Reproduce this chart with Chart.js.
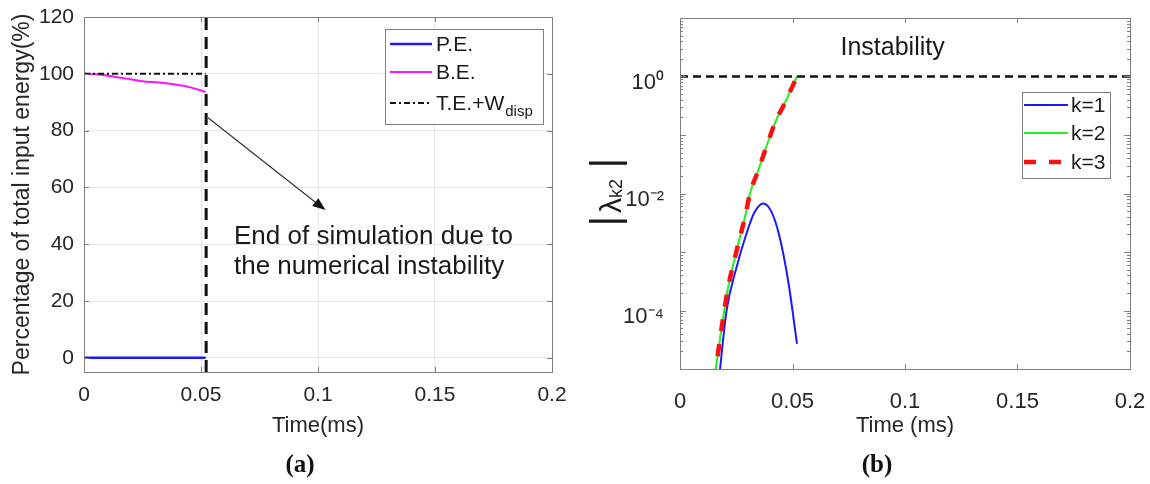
<!DOCTYPE html>
<html>
<head>
<meta charset="utf-8">
<script src="https://cdn.jsdelivr.net/npm/chart.js@4.4.0/dist/chart.umd.min.js"></script>
<style>
  body { margin: 0; background: #fff; width: 1150px; height: 484px; overflow: hidden; position: relative; }
  #energyChart { position: absolute; left: 0; top: 0; }
  #lambdaChart { position: absolute; left: 580px; top: 0; }
  .cap { position: absolute; top: 450px; transform: translateX(-50%); font: bold 25px 'Liberation Serif', 'Times New Roman', serif; color: #111; }
</style>
</head>
<body>
<canvas id="energyChart" width="580" height="484"></canvas>
<canvas id="lambdaChart" width="570" height="484"></canvas>
<div class="cap" style="left:300px">(a)</div>
<div class="cap" style="left:877px">(b)</div>
<script>
// shared axis
const timeTicks = [0, 0.05, 0.1, 0.15, 0.2];
const timeTickLabels = ['0', '0.05', '0.1', '0.15', '0.2'];

// (a) energy percentages
const energyTicks = [0, 20, 40, 60, 80, 100, 120];
const peTime = [0, 0.052];
const peValues = [0, 0];
const beTime = [0, 0.005, 0.011, 0.018, 0.025, 0.032, 0.039, 0.045, 0.052];
const beValues = [100, 99.8, 99.2, 98.3, 97.4, 96.9, 96.2, 95.3, 93.6];
const teTime = [0, 0.052];
const teValues = [100, 100];
const endTime = [0.0522, 0.0522];
const endRange = [-5, 120];
const arrowFrom = [0.053, 84.5];
const arrowTo = [0.1032, 52];
const noteAt = [0.0641, 42.6];
const noteLines = ['End of simulation due to', 'the numerical instability'];

// (b) |lambda_k2|
const lamTicks = [1e-4, 1e-2, 1];
const lamTickLabels = ['10⁻⁴', '10⁻²', '10⁰'];
const k1Time = [0.0170, 0.0207, 0.0252, 0.0296, 0.0330, 0.0370, 0.0405, 0.0440, 0.0481, 0.0520];
const k1Values = [5e-6, 1e-4, 5.6e-4, 2.09e-3, 4.68e-3, 6.76e-3, 5.0e-3, 2.0e-3, 3.16e-4, 2.7e-5];
const k2Time = [0.0150, 0.0160, 0.0185, 0.0214, 0.0252, 0.0289, 0.0311, 0.0348, 0.0385, 0.0422, 0.0466, 0.0520];
const k2Values = [6.3e-6, 1.07e-5, 5.1e-5, 2.5e-4, 1.07e-3, 4.0e-3, 1.0e-2, 2.5e-2, 6.5e-2, 0.16, 0.355, 1.0];
const k3Time = [0.0150, 0.0160, 0.0185, 0.0214, 0.0252, 0.0289, 0.0311, 0.0348, 0.0385, 0.0422, 0.0466, 0.0520];
const k3Values = [6.3e-6, 1.07e-5, 5.1e-5, 2.5e-4, 1.07e-3, 4.0e-3, 1.0e-2, 2.5e-2, 6.5e-2, 0.16, 0.355, 1.0];
const limitTime = [0, 0.2];
const limitValues = [1, 1];
const instabilityAt = [0.0945, 3.1];

const F = "'Liberation Sans', Arial, Helvetica, sans-serif";
const NARROW = "'Liberation Sans Narrow', 'Arial Narrow', " + F;
Chart.defaults.font.family = F;
Chart.defaults.color = '#262626';

function pts(xs, ys) {
  return xs.map((x, i) => ({ x: x, y: ys[i] }));
}

// matlab style box, inside ticks, legend and notes
const decor = {
  id: 'decor',
  afterDatasetsDraw(chart, args, o) {
    const ctx = chart.ctx, a = chart.chartArea;
    const sx = chart.scales.x, sy = chart.scales.y;
    ctx.save();
    ctx.setLineDash([]);
    ctx.strokeStyle = '#808080';
    ctx.lineWidth = 1;
    ctx.beginPath();
    o.xMarks.forEach(v => {
      const p = Math.round(sx.getPixelForValue(v)) + 0.5;
      ctx.moveTo(p, a.bottom); ctx.lineTo(p, a.bottom - 5);
      ctx.moveTo(p, a.top); ctx.lineTo(p, a.top + 5);
    });
    o.yMarks.forEach(m => {
      const p = Math.round(sy.getPixelForValue(m.v)) + 0.5;
      ctx.moveTo(a.left, p); ctx.lineTo(a.left + m.len, p);
      ctx.moveTo(a.right, p); ctx.lineTo(a.right - m.len, p);
    });
    ctx.stroke();
    ctx.strokeRect(Math.round(a.left) + 0.5, Math.round(a.top) + 0.5,
      Math.round(a.right - a.left), Math.round(a.bottom - a.top));

    // arrow
    if (o.arrow) {
      const x0 = sx.getPixelForValue(o.arrow.from[0]), y0 = sy.getPixelForValue(o.arrow.from[1]);
      const x1 = sx.getPixelForValue(o.arrow.to[0]), y1 = sy.getPixelForValue(o.arrow.to[1]);
      const ang = Math.atan2(y1 - y0, x1 - x0);
      ctx.strokeStyle = '#333';
      ctx.lineWidth = 1.2;
      ctx.beginPath(); ctx.moveTo(x0, y0);
      ctx.lineTo(x1 - 10 * Math.cos(ang), y1 - 10 * Math.sin(ang)); ctx.stroke();
      ctx.fillStyle = '#111';
      ctx.beginPath();
      ctx.moveTo(x1, y1);
      ctx.lineTo(x1 - 13 * Math.cos(ang) + 5 * Math.sin(ang), y1 - 13 * Math.sin(ang) - 5 * Math.cos(ang));
      ctx.lineTo(x1 - 13 * Math.cos(ang) - 5 * Math.sin(ang), y1 - 13 * Math.sin(ang) + 5 * Math.cos(ang));
      ctx.closePath(); ctx.fill();
    }

    // free text
    (o.notes || []).forEach(n => {
      ctx.fillStyle = '#1a1a1a';
      ctx.font = n.size + 'px ' + F;
      ctx.textAlign = n.align;
      ctx.textBaseline = 'middle';
      const px = sx.getPixelForValue(n.at[0]), py = sy.getPixelForValue(n.at[1]);
      n.lines.forEach((t, i) => ctx.fillText(t, px, py + i * n.gap));
    });

    // legend
    if (o.legend) {
      const L = o.legend;
      ctx.fillStyle = '#fff';
      ctx.fillRect(L.x, L.y, L.w, L.h);
      ctx.strokeStyle = '#808080';
      ctx.lineWidth = 1;
      ctx.strokeRect(L.x + 0.5, L.y + 0.5, L.w, L.h);
      L.items.forEach((dsIndex, i) => {
        const ds = chart.data.datasets[dsIndex];
        const yy = L.y + L.rows[i];
        ctx.strokeStyle = ds.borderColor;
        ctx.lineWidth = ds.borderWidth;
        ctx.setLineDash(ds.borderDash || []);
        ctx.beginPath(); ctx.moveTo(L.x + L.lineFrom, yy); ctx.lineTo(L.x + L.lineTo, yy); ctx.stroke();
        ctx.setLineDash([]);
        ctx.fillStyle = '#1a1a1a';
        ctx.font = L.size + 'px ' + F;
        ctx.textAlign = 'left';
        ctx.textBaseline = 'middle';
        ctx.fillText(ds.label, L.x + L.textX, yy + 1);
        if (ds.labelSub) {
          const w = ctx.measureText(ds.label).width;
          ctx.font = L.subSize + 'px ' + F;
          ctx.fillText(ds.labelSub, L.x + L.textX + w + 1, yy + 9);
        }
      });
    }

    // |lambda_k2| axis label
    if (o.lambda) {
      ctx.translate(o.lambda.x, o.lambda.y);
      ctx.rotate(-Math.PI / 2);
      ctx.fillStyle = '#1a1a1a';
      ctx.textBaseline = 'alphabetic';
      ctx.textAlign = 'center';
      ctx.font = '40px ' + F;
      ctx.fillText('|', -29, 12);
      ctx.fillText('|', 29, 12);
      ctx.textAlign = 'left';
      ctx.font = '30px ' + F;
      ctx.fillText('λ', -21, 14);
      ctx.font = '18px ' + F;
      ctx.fillText('k2', -6, 15);
    }
    ctx.restore();
  }
};

const lamMarks = [];
[1e-5, 1e-4, 1e-3, 1e-2, 1e-1, 1].forEach(d => {
  lamMarks.push({ v: d, len: 6 });
  for (let m = 2; m <= 9; m++) lamMarks.push({ v: d * m, len: 3 });
});
lamMarks.push({ v: 10, len: 6 });

// (a)
new Chart(document.getElementById('energyChart'), {
  type: 'line',
  data: {
    datasets: [
      { label: 'end', data: pts(endTime, endRange), borderColor: '#111', borderWidth: 3, borderDash: [12, 7], order: 0 },
      { label: 'T.E.+W', labelSub: 'disp', data: pts(teTime, teValues), borderColor: '#111', borderWidth: 2, borderDash: [6, 3, 2, 3], order: 1 },
      { label: 'B.E.', data: pts(beTime, beValues), borderColor: '#ff10ff', borderWidth: 2, cubicInterpolationMode: 'monotone', order: 2 },
      { label: 'P.E.', data: pts(peTime, peValues), borderColor: '#1a1aff', borderWidth: 2.5, order: 3 }
    ]
  },
  options: {
    responsive: false,
    animation: false,
    devicePixelRatio: 1,
    layout: { padding: { left: 0, top: 17, right: 28, bottom: 0 } },
    elements: { point: { radius: 0 }, line: { fill: false } },
    plugins: {
      legend: { display: false },
      tooltip: { enabled: false },
      decor: {
        xMarks: timeTicks,
        yMarks: energyTicks.map(v => ({ v: v, len: 5 })),
        arrow: { from: arrowFrom, to: arrowTo },
        notes: [{ at: noteAt, lines: noteLines, size: 26, gap: 30, align: 'left' }],
        legend: { x: 385, y: 29, w: 158, h: 95, rows: [15, 43, 74], lineFrom: 5, lineTo: 47, textX: 51, size: 21, subSize: 15, items: [3, 2, 1] }
      }
    },
    scales: {
      x: {
        type: 'linear', min: 0, max: 0.2,
        afterBuildTicks: s => { s.ticks = timeTicks.map(v => ({ value: v })); },
        afterFit: s => { s.height = 112; s.paddingLeft = 0; s.paddingRight = 0; },
        grid: { color: '#e6e6e6', drawTicks: false },
        border: { display: false },
        ticks: { padding: 11, maxRotation: 0, autoSkip: false, font: { size: 21 }, callback: (v, i) => timeTickLabels[i] },
        title: { display: true, text: 'Time(ms)', font: { size: 22, family: NARROW }, padding: { top: 0, bottom: 45 } }
      },
      y: {
        type: 'linear', min: -5, max: 120,
        afterBuildTicks: s => { s.ticks = energyTicks.map(v => ({ value: v })); },
        afterFit: s => { s.width = 84; s.paddingTop = 0; s.paddingBottom = 0; },
        grid: { color: '#e6e6e6', drawTicks: false },
        border: { display: false },
        ticks: { padding: 10, font: { size: 21 }, callback: (v, i) => String(energyTicks[i]) },
        title: { display: true, text: 'Percentage of total input energy(%)', font: { size: 23 }, padding: { top: 9, bottom: 0 } }
      }
    }
  },
  plugins: [decor]
});

// (b)
new Chart(document.getElementById('lambdaChart'), {
  type: 'line',
  data: {
    datasets: [
      { label: 'limit', data: pts(limitTime, limitValues), borderColor: '#111', borderWidth: 2.5, borderDash: [8, 5], order: 0 },
      { label: 'k=1', data: pts(k1Time, k1Values), borderColor: '#1a1aff', borderWidth: 2, cubicInterpolationMode: 'monotone', order: 3 },
      { label: 'k=2', data: pts(k2Time, k2Values), borderColor: '#22ee22', borderWidth: 2, cubicInterpolationMode: 'monotone', order: 2 },
      { label: 'k=3', data: pts(k3Time, k3Values), borderColor: '#ff1010', borderWidth: 4.5, borderDash: [12, 13], cubicInterpolationMode: 'monotone', order: 1 }
    ]
  },
  options: {
    responsive: false,
    animation: false,
    devicePixelRatio: 1,
    layout: { padding: { left: 0, top: 18, right: 20, bottom: 0 } },
    elements: { point: { radius: 0 }, line: { fill: false } },
    plugins: {
      legend: { display: false },
      tooltip: { enabled: false },
      decor: {
        xMarks: timeTicks,
        yMarks: lamMarks,
        notes: [{ at: instabilityAt, lines: ['Instability'], size: 25, gap: 0, align: 'center' }],
        legend: { x: 442, y: 92, w: 88, h: 86, rows: [13, 41, 70], lineFrom: 2, lineTo: 46, textX: 49, size: 21, subSize: 15, items: [1, 2, 3] },
        lambda: { x: 27, y: 192 }
      }
    },
    scales: {
      x: {
        type: 'linear', min: 0, max: 0.2,
        afterBuildTicks: s => { s.ticks = timeTicks.map(v => ({ value: v })); },
        afterFit: s => { s.height = 115; s.paddingLeft = 0; s.paddingRight = 0; },
        grid: { display: false },
        border: { display: false },
        ticks: { padding: 12, maxRotation: 0, autoSkip: false, font: { size: 22 }, callback: (v, i) => timeTickLabels[i] },
        title: { display: true, text: 'Time (ms)', font: { size: 22, family: NARROW }, padding: { top: 0, bottom: 45 } }
      },
      y: {
        type: 'logarithmic', min: 1e-5, max: 10,
        afterBuildTicks: s => { s.ticks = lamTicks.map(v => ({ value: v })); },
        afterFit: s => { s.width = 100; s.paddingTop = 0; s.paddingBottom = 0; },
        grid: { display: false },
        border: { display: false },
        ticks: { padding: 8, labelOffset: 6, font: { size: 22 }, callback: (v, i) => lamTickLabels[i] }
      }
    }
  },
  plugins: [decor]
});
</script>
</body>
</html>
